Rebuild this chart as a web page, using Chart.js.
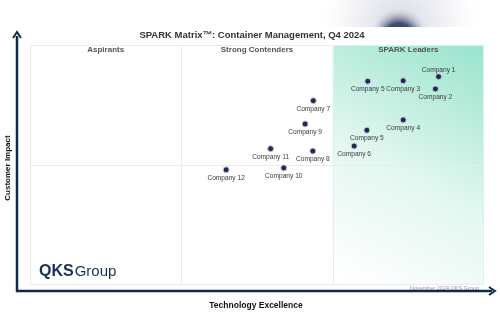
<!DOCTYPE html>
<html>
<head>
<meta charset="utf-8">
<script src="https://cdn.jsdelivr.net/npm/chart.js@4"></script>
<style>
  html, body { margin: 0; padding: 0; background: #fff; }
  #wrap { width: 500px; height: 334px; position: relative; }
</style>
</head>
<body>
<div id="wrap"><canvas id="matrix" width="500" height="334"></canvas></div>
<script>
// vendor names, technology excellence (x), customer impact (y), label side
const companies = ['Company 1', 'Company 2', 'Company 3', 'Company 5', 'Company 4', 'Company 5',
  'Company 6', 'Company 7', 'Company 9', 'Company 11', 'Company 8', 'Company 12', 'Company 10'];
const techScores = [90.0, 89.3, 82.2, 74.4, 82.2, 74.2, 71.4, 62.4, 60.6, 53.0, 62.3, 43.2, 55.9];
const impactScores = [86.8, 81.7, 85.1, 84.9, 68.8, 64.5, 57.9, 76.8, 67.1, 56.8, 55.8, 48.0, 48.8];
const labelSide = ['above', 'below', 'below', 'below', 'below', 'below', 'below',
  'below', 'below', 'below', 'below', 'below', 'below'];
const zones = ['Aspirants', 'Strong Contenders', 'SPARK Leaders'];

const navy = '#0f2a4c';
const font = '"Liberation Sans", Arial, sans-serif';

const points = techScores.map((x, i) => ({ x: x, y: impactScores[i] }));

const backdrop = {
  id: 'backdrop',
  beforeDraw(chart) {
    const c = chart.ctx;
    const a = chart.chartArea;
    const xs = chart.scales.x, ys = chart.scales.y;
    c.save();
    c.fillStyle = '#fff';
    c.fillRect(0, 0, chart.width, chart.height);

    // blurred blob top right
    c.save();
    c.beginPath();
    c.rect(320, 0, 160, 27);
    c.clip();
    let g = c.createRadialGradient(400, 24, 0, 400, 24, 85);
    g.addColorStop(0, 'rgba(215,218,228,1)');
    g.addColorStop(0.6, 'rgba(240,241,245,0.8)');
    g.addColorStop(1, 'rgba(255,255,255,0)');
    c.fillStyle = g;
    c.fillRect(320, 0, 160, 27);
    g = c.createRadialGradient(399, 38, 0, 399, 38, 30);
    g.addColorStop(0, 'rgba(20,30,70,1)');
    g.addColorStop(0.5, 'rgba(45,55,95,0.85)');
    g.addColorStop(1, 'rgba(210,214,226,0)');
    c.fillStyle = g;
    c.fillRect(320, 0, 160, 27);
    c.restore();

    // leaders gradient
    const x2 = xs.getPixelForValue(66.67);
    g = c.createLinearGradient(a.right, a.top, x2 + 20, a.bottom);
    g.addColorStop(0, '#98e3cc');
    g.addColorStop(0.55, '#e2f7f0');
    g.addColorStop(1, '#ffffff');
    c.fillStyle = g;
    c.fillRect(x2, a.top, a.right - x2, a.bottom - a.top);

    // grid
    c.strokeStyle = '#ebebeb';
    c.lineWidth = 1;
    c.strokeRect(a.left + 0.5, a.top + 0.5, a.right - a.left - 1, a.bottom - a.top - 1);
    c.beginPath();
    [33.33, 66.67].forEach(v => {
      const px = Math.round(xs.getPixelForValue(v)) + 0.5;
      c.moveTo(px, a.top); c.lineTo(px, a.bottom);
    });
    const py = Math.round(ys.getPixelForValue(50)) + 0.5;
    c.moveTo(a.left, py); c.lineTo(a.right, py);
    c.stroke();

    // title and zone headers
    c.textAlign = 'center';
    c.textBaseline = 'middle';
    c.fillStyle = '#333';
    c.font = 'bold 9.5px ' + font;
    c.fillText('SPARK Matrix\u2122: Container Management, Q4 2024', 252, 35);
    c.fillStyle = '#555';
    c.font = 'bold 8px ' + font;
    zones.forEach((z, i) => {
      c.fillText(z, xs.getPixelForValue(i * 33.33 + 16.67), 50);
    });

    // logo
    c.textAlign = 'left';
    c.textBaseline = 'alphabetic';
    c.fillStyle = '#1a2f55';
    c.font = 'bold 16px ' + font;
    c.fillText('QKS', 39, 276);
    const w = c.measureText('QKS').width;
    c.font = '15px ' + font;
    c.fillText('Group', 39 + w + 1, 276);

    // footnote
    c.textAlign = 'right';
    c.fillStyle = '#999';
    c.font = '5.5px ' + font;
    c.fillText('November 2024 QKS Group', 479, 290);

    // axis arrows
    c.strokeStyle = navy;
    c.fillStyle = navy;
    c.lineWidth = 2.5;
    c.beginPath();
    c.moveTo(17, 36); c.lineTo(17, 291); c.lineTo(492, 291);
    c.stroke();
    c.lineWidth = 2;
    c.beginPath();
    c.moveTo(13, 38); c.lineTo(17, 32); c.lineTo(21, 38);
    c.stroke();
    c.beginPath();
    c.moveTo(489, 287); c.lineTo(495, 291); c.lineTo(489, 295);
    c.stroke();

    // axis titles
    c.fillStyle = '#111';
    c.font = 'bold 8.5px ' + font;
    c.textAlign = 'center';
    c.textBaseline = 'middle';
    c.fillText('Technology Excellence', 256, 306);
    c.font = 'bold 8px ' + font;
    c.save();
    c.translate(8, 168);
    c.rotate(-Math.PI / 2);
    c.fillText('Customer Impact', 0, 0);
    c.restore();
    c.restore();
  }
};

const pointLabels = {
  id: 'pointLabels',
  afterDatasetsDraw(chart) {
    const c = chart.ctx;
    const meta = chart.getDatasetMeta(0);
    c.save();
    c.fillStyle = '#3a3a3a';
    c.font = '6.6px ' + font;
    c.textAlign = 'center';
    c.textBaseline = 'middle';
    meta.data.forEach((el, i) => {
      const dy = labelSide[i] === 'above' ? -7 : 8;
      c.fillText(companies[i], el.x, el.y + dy);
    });
    c.restore();
  }
};

new Chart(document.getElementById('matrix'), {
  type: 'scatter',
  data: {
    datasets: [{
      data: points,
      pointRadius: 3,
      pointBackgroundColor: '#1c2b4f',
      pointBorderColor: '#c9cdd8',
      pointBorderWidth: 1
    }]
  },
  options: {
    responsive: false,
    animation: false,
    layout: { padding: { left: 30, right: 16, top: 45, bottom: 49 } },
    scales: {
      x: { display: false, min: 0, max: 100 },
      y: { display: false, min: 0, max: 100 }
    },
    plugins: { legend: { display: false }, tooltip: { enabled: false } }
  },
  plugins: [backdrop, pointLabels]
});
</script>
</body>
</html>
